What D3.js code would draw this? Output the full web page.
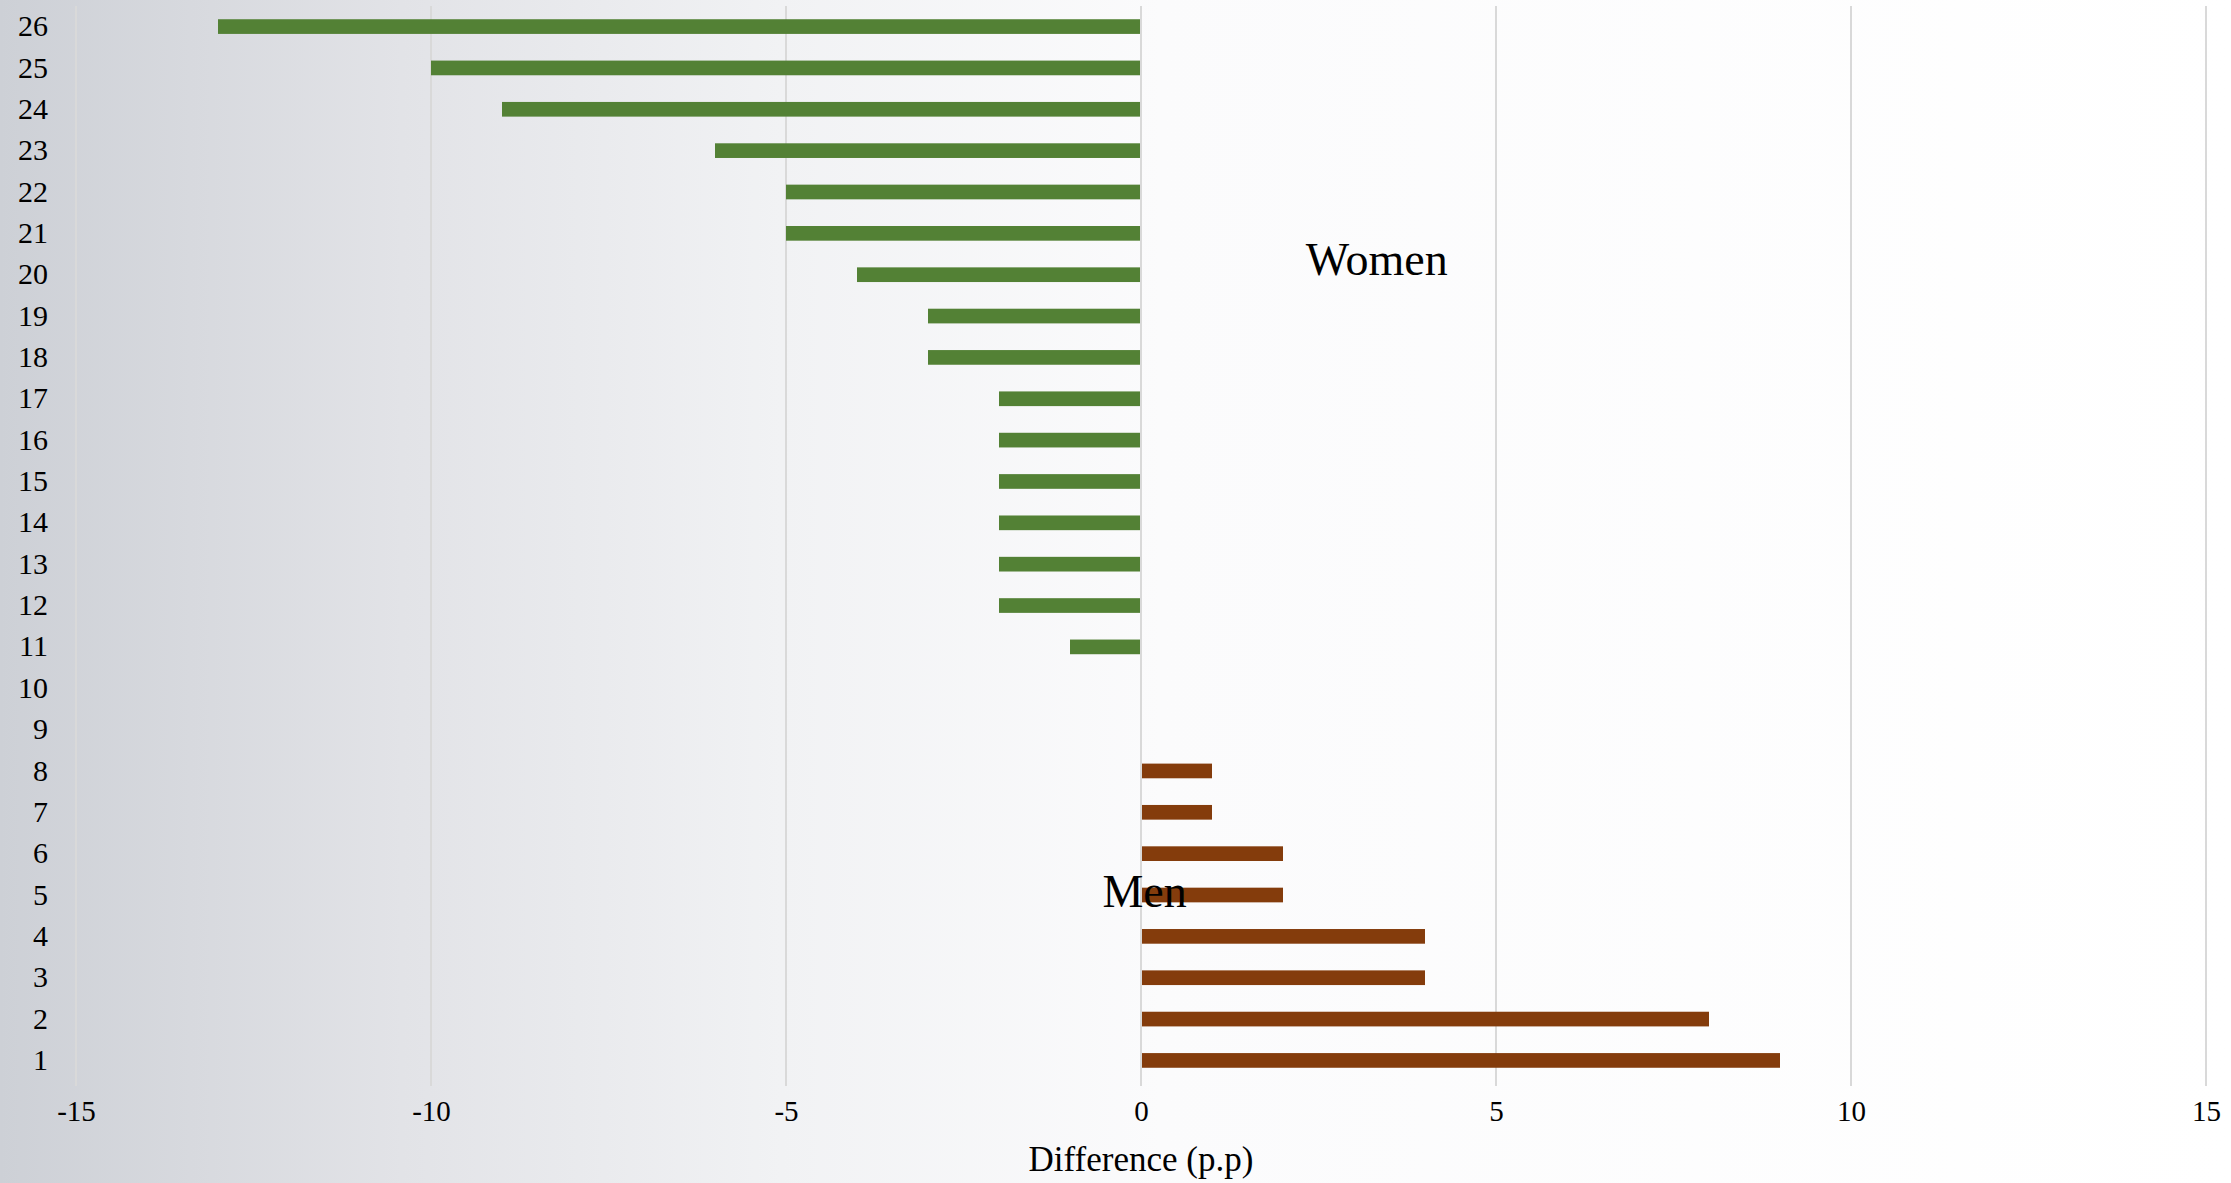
<!DOCTYPE html>
<html>
<head>
<meta charset="utf-8">
<script src="https://cdn.jsdelivr.net/npm/d3@7"></script>
<style>
  html, body { margin: 0; padding: 0; overflow: hidden; }
  svg { display: block; font-family: "Liberation Serif", "DejaVu Serif", serif; }
</style>
</head>
<body>
<div id="chart"></div>
<script>
// ranks shown on the y axis, bottom (1) to top (26)
var ranks = d3.range(1, 27);
// difference in percentage points, indexed like ranks
var menValues   = [9, 8, 4, 4, 2, 2, 1, 1, 0, 0, 0, 0, 0, 0, 0, 0, 0, 0, 0, 0, 0, 0, 0, 0, 0, 0];
var womenValues = [0, 0, 0, 0, 0, 0, 0, 0, 0, 0, -1, -2, -2, -2, -2, -2, -2, -3, -3, -4, -5, -5, -6, -9, -10, -13];
var xTicks = [-15, -10, -5, 0, 5, 10, 15];

var width = 2231, height = 1183;
var margin = {top: 6, right: 25, bottom: 102, left: 76};

var svg = d3.select('#chart').append('svg')
  .attr('width', width)
  .attr('height', height);

// background gradient
var grad = svg.append('defs').append('linearGradient')
  .attr('id', 'bg').attr('x1', '0%').attr('x2', '100%').attr('y1', '0%').attr('y2', '0%');
grad.append('stop').attr('offset', '0%').attr('stop-color', '#cdd0d6');
grad.append('stop').attr('offset', '18%').attr('stop-color', '#e2e3e7');
grad.append('stop').attr('offset', '35%').attr('stop-color', '#f1f2f4');
grad.append('stop').attr('offset', '52%').attr('stop-color', '#fbfbfc');
grad.append('stop').attr('offset', '100%').attr('stop-color', '#ffffff');
svg.append('rect').attr('width', width).attr('height', height).attr('fill', 'url(#bg)');

var x = d3.scaleLinear().domain([-15, 15]).range([margin.left, width - margin.right]);
var y = d3.scaleBand().domain(ranks.slice().reverse())
  .range([margin.top, height - margin.bottom]).paddingInner(0.645).paddingOuter(0.32);

// gridlines
svg.append('g').selectAll('line').data(xTicks).join('line')
  .attr('x1', function(d) { return x(d); }).attr('x2', function(d) { return x(d); })
  .attr('y1', margin.top).attr('y2', height - margin.bottom + 5)
  .attr('stroke', '#d9d9d9').attr('stroke-width', 2);

function bars(values, color) {
  var rows = ranks.map(function(r, i) { return {rank: r, value: values[i]}; })
    .filter(function(d) { return d.value !== 0; });
  svg.append('g').selectAll('rect').data(rows).join('rect')
    .attr('x', function(d) { return Math.min(x(0), x(d.value)) + (d.value > 0 ? 1 : 0); })
    .attr('width', function(d) { return Math.abs(x(d.value) - x(0)) - 1; })
    .attr('y', function(d) { return y(d.rank); })
    .attr('height', y.bandwidth())
    .attr('fill', color);
}
bars(womenValues, '#538135');
bars(menValues, '#843c0c');

// y axis labels
var yAxis = d3.axisLeft(y).tickSize(0).tickPadding(0);
var gy = svg.append('g').attr('transform', 'translate(48,0)').call(yAxis);
gy.select('.domain').remove();
gy.selectAll('text').attr('font-size', 30).attr('fill', '#000')
  .attr('font-family', '"Liberation Serif", serif');

// x axis labels (plain hyphen for negatives, as in the original)
var xAxis = d3.axisBottom(x).tickValues(xTicks).tickSize(0).tickPadding(0)
  .tickFormat(function(d) { return String(d); });
var gx = svg.append('g').attr('transform', 'translate(0,' + (height - margin.bottom + 19) + ')').call(xAxis);
gx.select('.domain').remove();
gx.selectAll('text').attr('font-size', 29).attr('fill', '#000')
  .attr('font-family', '"Liberation Serif", serif');

// axis title
svg.append('text').attr('x', x(0)).attr('y', 1171)
  .attr('text-anchor', 'middle').attr('font-size', 35).attr('fill', '#000')
  .text('Difference (p.p)');

// series labels
svg.append('text').attr('x', x(3.32)).attr('y', y(20) + y.bandwidth() / 2)
  .attr('text-anchor', 'middle').attr('font-size', 46).attr('fill', '#000')
  .text('Women');
svg.append('text').attr('x', x(0.05)).attr('y', y(5) + y.bandwidth() / 2 + 12)
  .attr('text-anchor', 'middle').attr('font-size', 46).attr('fill', '#000')
  .text('Men');
</script>
</body>
</html>
